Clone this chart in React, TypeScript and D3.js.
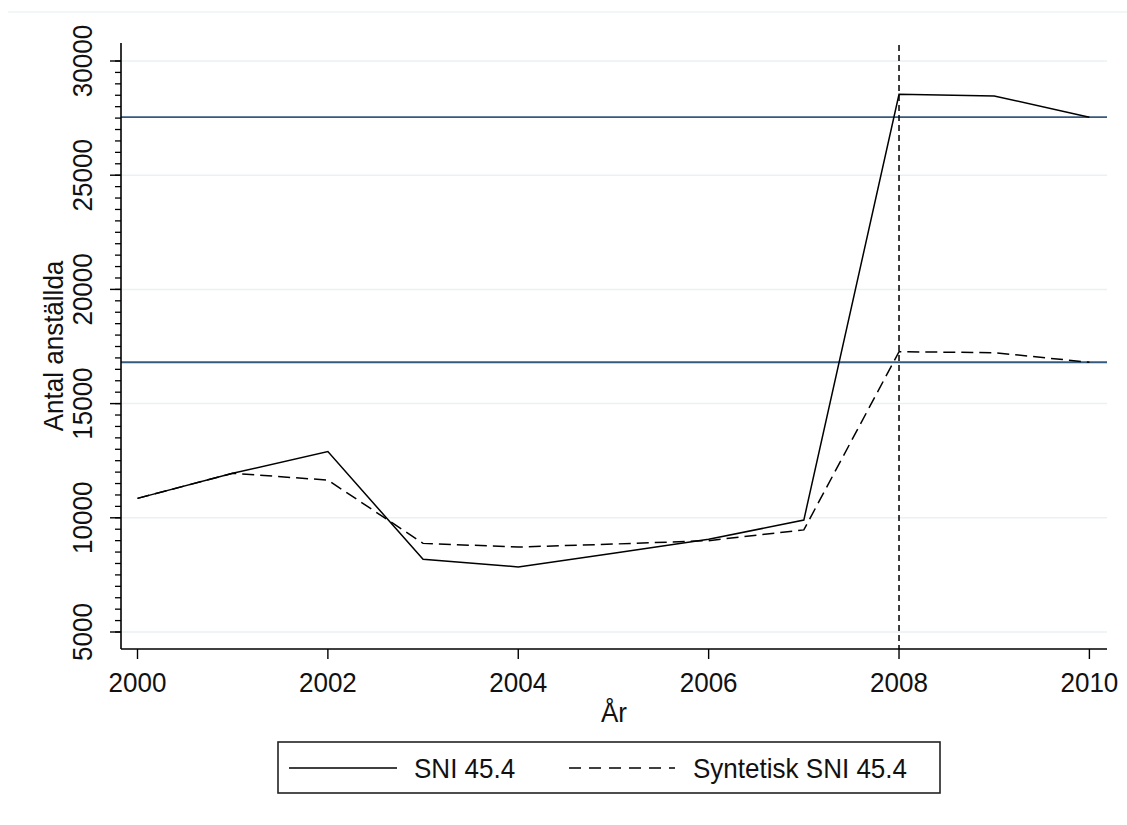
import React, { useEffect, useRef } from "react";
import * as d3 from "d3";

const years = [2000, 2001, 2002, 2003, 2004, 2005, 2006, 2007, 2008, 2009, 2010];
const sni = [10850, 11950, 12900, 8180, 7850, 8450, 9060, 9900, 28540, 28470, 27540];
const syntetisk = [10850, 11950, 11650, 8880, 8720, 8850, 9000, 9470, 17270, 17230, 16810];
const refLines = [27540, 16810];
const treatYear = 2008;
const xTicks = [2000, 2002, 2004, 2006, 2008, 2010];
const yTicks = [5000, 10000, 15000, 20000, 25000, 30000];
const seriesNames = ["SNI 45.4", "Syntetisk SNI 45.4"];
const xTitle = "År";
const yTitle = "Antal anställda";

const W = 1127;
const H = 825;
const FONT = "'Liberation Sans', Arial, sans-serif";
const FS = 28;
const SX = 0.93;

export default function App() {
  const ref = useRef<SVGSVGElement | null>(null);

  useEffect(() => {
    const svg = d3.select(ref.current);
    svg.selectAll("*").remove();

    const left = 121, right = 1107, top = 43, bottom = 649;
    const x = d3.scaleLinear().domain([2000, 2010]).range([137.5, 1089.4]);
    const y = d3.scaleLinear().domain([5000, 30000]).range([632, 61]);

    const txt = (g: any, tx: number, ty: number, rot: number, anchor: string, s: string) =>
      g.append("text")
        .attr("transform", `translate(${tx},${ty}) rotate(${rot}) scale(${SX},1)`)
        .attr("text-anchor", anchor)
        .attr("font-family", FONT).attr("font-size", FS).attr("fill", "#111")
        .text(s);

    // faint outer line
    svg.append("line").attr("x1", 8).attr("x2", W).attr("y1", 12).attr("y2", 12)
      .attr("stroke", "#edf3f5").attr("stroke-width", 1.5);

    // gridlines
    svg.append("g").selectAll("line").data(yTicks).join("line")
      .attr("x1", left).attr("x2", right)
      .attr("y1", (d) => y(d)).attr("y2", (d) => y(d))
      .attr("stroke", "#eaf1f3").attr("stroke-width", 1.5);

    // reference horizontal lines
    svg.append("g").selectAll("line").data(refLines).join("line")
      .attr("x1", left).attr("x2", right)
      .attr("y1", (d) => y(d)).attr("y2", (d) => y(d))
      .attr("stroke", "#345a7e").attr("stroke-width", 1.8);

    // vertical treatment line
    svg.append("line").attr("x1", x(treatYear)).attr("x2", x(treatYear))
      .attr("y1", top + 2).attr("y2", bottom)
      .attr("stroke", "#000").attr("stroke-width", 1.5).attr("stroke-dasharray", "6,4");

    const line = d3.line<number>().x((_, i) => x(years[i])).y((d) => y(d));

    svg.append("path").attr("d", line(sni) as string).attr("fill", "none")
      .attr("stroke", "#000").attr("stroke-width", 1.5);
    svg.append("path").attr("d", line(syntetisk) as string).attr("fill", "none")
      .attr("stroke", "#000").attr("stroke-width", 1.5).attr("stroke-dasharray", "12,6");

    // axes lines
    svg.append("line").attr("x1", left).attr("x2", left).attr("y1", top).attr("y2", bottom)
      .attr("stroke", "#000").attr("stroke-width", 1.6);
    svg.append("line").attr("x1", left).attr("x2", right).attr("y1", bottom).attr("y2", bottom)
      .attr("stroke", "#000").attr("stroke-width", 1.6);

    // y minor ticks
    const minor = d3.range(5000, 30001, 500);
    svg.append("g").selectAll("line").data(minor).join("line")
      .attr("x1", left - 6).attr("x2", left)
      .attr("y1", (d) => y(d)).attr("y2", (d) => y(d))
      .attr("stroke", "#000").attr("stroke-width", 1.3);
    // y major ticks
    svg.append("g").selectAll("line").data(yTicks).join("line")
      .attr("x1", left - 11).attr("x2", left)
      .attr("y1", (d) => y(d)).attr("y2", (d) => y(d))
      .attr("stroke", "#000").attr("stroke-width", 1.4);
    const yg = svg.append("g");
    yTicks.forEach((d) => txt(yg, 92, y(d), -90, "middle", String(d)));

    // x ticks
    svg.append("g").selectAll("line").data(xTicks).join("line")
      .attr("x1", (d) => x(d)).attr("x2", (d) => x(d))
      .attr("y1", bottom).attr("y2", bottom + 10)
      .attr("stroke", "#000").attr("stroke-width", 1.4);
    const xg = svg.append("g");
    xTicks.forEach((d) => txt(xg, x(d), 692, 0, "middle", String(d)));

    // axis titles
    txt(svg, (left + right) / 2, 722, 0, "middle", xTitle);
    txt(svg, 63, (top + bottom) / 2, -90, "middle", yTitle);

    // legend
    const lg = svg.append("g");
    lg.append("rect").attr("x", 278).attr("y", 742).attr("width", 662).attr("height", 51)
      .attr("fill", "#fff").attr("stroke", "#222").attr("stroke-width", 1.6);
    lg.append("line").attr("x1", 289).attr("x2", 397).attr("y1", 768).attr("y2", 768)
      .attr("stroke", "#000").attr("stroke-width", 1.5);
    txt(lg, 414, 778, 0, "start", seriesNames[0]);
    lg.append("line").attr("x1", 569).attr("x2", 675).attr("y1", 768).attr("y2", 768)
      .attr("stroke", "#000").attr("stroke-width", 1.5).attr("stroke-dasharray", "12,8");
    txt(lg, 693, 778, 0, "start", seriesNames[1]);
  }, []);

  return <svg ref={ref} width={W} height={H} style={{ display: "block", position: "absolute", left: 0, top: 0, background: "#fff" }} />;
}
